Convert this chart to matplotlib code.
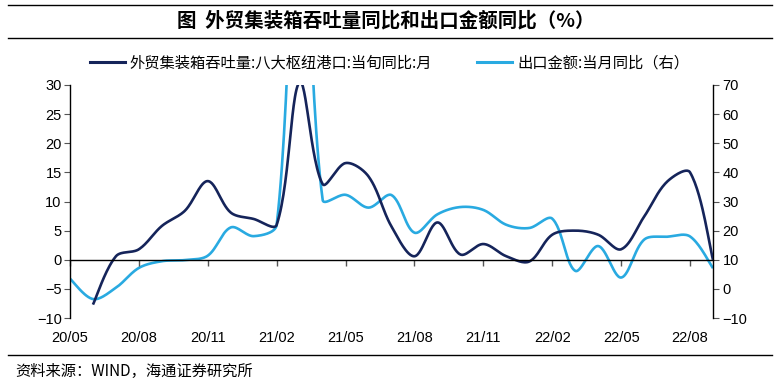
import numpy as np
import matplotlib
matplotlib.use('Agg')
import matplotlib.pyplot as plt
from matplotlib.lines import Line2D

plt.rcParams['font.family'] = ['Liberation Sans', 'Noto Sans CJK SC', 'DejaVu Sans']
CJK = ['Noto Sans CJK SC', 'DejaVu Sans']

# ---------------- data ----------------
tick_labels = ['20/05', '20/08', '20/11', '21/02', '21/05', '21/08',
               '21/11', '22/02', '22/05', '22/08']
n_periods = 29
container_yoy = [np.nan, -7.7, 0.6, 1.8, 5.8, 8.4, 13.5, 8.1, 7.0, 6.0,
                 30.5, 13.0, 16.6, 14.3, 5.7, 0.6, 6.4, 0.9, 2.7, 0.6,
                 -0.3, 4.3, 5.0, 4.3, 1.8, 7.4, 13.4, 15.0, 0.0]
export_yoy = [3.5, -3.5, 0.4, 7.2, 9.5, 9.9, 11.4, 21.1, 18.1, 22.0,
              154.9, 30.6, 32.3, 27.9, 32.2, 19.3, 25.6, 28.1, 27.1, 22.0,
              20.9, 24.1, 6.2, 14.7, 3.9, 16.9, 17.9, 18.0, 7.1]
name_container = '外贸集装箱吞吐量:八大枢纽港口:当旬同比:月'
name_export = '出口金额:当月同比（右）'

DARK = '#15245A'
LIGHT = '#29AAE1'

W, H = 779, 389
fig = plt.figure(figsize=(W / 100, H / 100), dpi=100)

L, R, T, B = 70, 713, 85, 318
ax = fig.add_axes([L / W, 1 - B / H, (R - L) / W, (B - T) / H])
ax2 = ax.twinx()
ax.set_zorder(ax2.get_zorder() + 1)
ax.patch.set_visible(False)

ax.set_xlim(0, n_periods - 1)
ax.set_ylim(-10, 30)
ax2.set_ylim(-10, 70)


def smooth(axis, xs, ys, n=30):
    """Excel-like smoothed line drawn through the data points (display space)."""
    pts = axis.transData.transform(np.column_stack([xs, ys]))
    m = len(pts)
    segs = []
    for i in range(m - 1):
        p1, p2 = pts[i], pts[i + 1]
        d12 = np.hypot(*(p2 - p1))
        if i > 0:
            p0 = pts[i - 1]
            d01 = np.hypot(*(p1 - p0))
            c1 = p1 + (p2 - p0) / 3 * d12 / (d01 + d12)
        else:
            c1 = p1 + (p2 - p1) / 6
        if i + 2 < m:
            p3 = pts[i + 2]
            d23 = np.hypot(*(p3 - p2))
            c2 = p2 - (p3 - p1) / 3 * d12 / (d12 + d23)
        else:
            c2 = p2 - (p2 - p1) / 6
        t = np.linspace(0, 1, n)[:, None]
        seg = ((1 - t) ** 3) * p1 + 3 * ((1 - t) ** 2) * t * c1 + \
            3 * (1 - t) * t ** 2 * c2 + t ** 3 * p2
        segs.append(seg if i == 0 else seg[1:])
    curve = np.vstack(segs)
    return axis.transData.inverted().transform(curve)


x = np.arange(n_periods)
cy = np.array(container_yoy, dtype=float)
ok = ~np.isnan(cy)
c_curve = smooth(ax, x[ok], cy[ok])
e_curve = smooth(ax2, x, np.array(export_yoy, dtype=float))

ax2.plot(e_curve[:, 0], e_curve[:, 1], color=LIGHT, lw=1.9, solid_capstyle='butt')
ax.plot(c_curve[:, 0], c_curve[:, 1], color=DARK, lw=1.9, solid_capstyle='butt')

# spines
for s in ['top', 'right']:
    ax.spines[s].set_visible(False)
for s in ['top', 'left', 'bottom']:
    ax2.spines[s].set_visible(False)
ax.spines['bottom'].set_position(('data', 0))
ax.spines['bottom'].set_linewidth(1.0)
ax.spines['left'].set_linewidth(1.0)
ax2.spines['right'].set_linewidth(1.0)

tick_pos = list(range(0, n_periods, 3))
ax.set_xticks(tick_pos)
ax.tick_params(axis='x', direction='out', length=4, labelbottom=False,
               color='#555555', width=1)
secx = ax.secondary_xaxis('bottom')
secx.set_xticks(tick_pos, tick_labels)
secx.tick_params(length=0, pad=9, labelsize=10.5)
secx.spines['bottom'].set_visible(False)

ax.set_yticks(np.arange(-10, 31, 5))
ax.tick_params(axis='y', direction='out', length=4, pad=2, labelsize=10.5,
               color='#555555')
ax2.set_yticks(np.arange(-10, 71, 10))
ax2.tick_params(axis='y', direction='out', length=4, pad=3, labelsize=10.5,
                color='#555555')

# title & frame lines
fig.add_artist(Line2D([8 / W, 772 / W], [1 - 5 / H] * 2, color='black', lw=1.0))
fig.add_artist(Line2D([8 / W, 772 / W], [1 - 38 / H] * 2, color='black', lw=1.0))
fig.add_artist(Line2D([8 / W, 772 / W], [1 - 355 / H] * 2, color='black', lw=1.0))
fig.text(386 / W, 1 - 21 / H, '图  外贸集装箱吞吐量同比和出口金额同比（%）',
         ha='center', va='center', fontsize=14, fontweight='bold', family=CJK)
fig.text(15 / W, 1 - 371 / H, '资料来源：WIND，海通证券研究所',
         ha='left', va='center', fontsize=11, family=CJK)

# legend
handles = [Line2D([], [], color=DARK, lw=2.2), Line2D([], [], color=LIGHT, lw=2.2)]
leg = fig.legend(handles, [name_container, name_export], ncol=2,
                 loc='center left', bbox_to_anchor=(90 / W, 1 - 63 / H),
                 frameon=False, prop={'family': CJK, 'size': 11},
                 handlelength=2.3, handletextpad=0.3, columnspacing=2.95,
                 borderaxespad=0, borderpad=0)

fig.savefig('out.png', dpi=100)
